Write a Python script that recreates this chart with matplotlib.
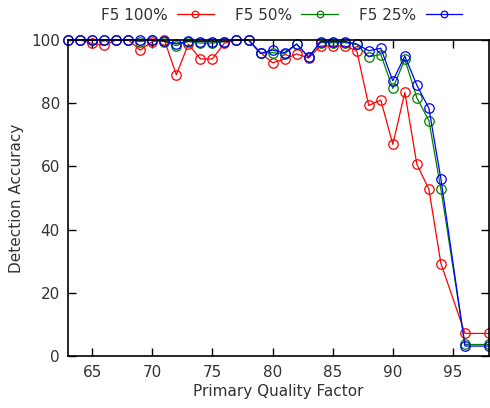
import numpy as np
import matplotlib
matplotlib.use("Agg")
import matplotlib.pyplot as plt

quality = [63, 64, 65, 66, 67, 68, 69, 70, 71, 72, 73, 74, 75, 76, 77, 78, 79, 80,
           81, 82, 83, 84, 85, 86, 87, 88, 89, 90, 91, 92, 93, 94, 96, 98]

f5_100 = [100, 100, 98.9, 98.3, 100, 100, 96.8, 99.5, 100, 89.0, 98.7, 94.0, 94.0, 99.0,
          100, 100, 96.0, 92.8, 93.9, 95.6, 94.3, 98.1, 98.1, 98.1, 96.6, 79.3, 81.0,
          67.0, 83.4, 60.7, 52.8, 29.3, 7.2, 7.2]
f5_50 = [100, 100, 100, 100, 100, 100, 99.5, 100, 99.5, 98.2, 99.5, 99.0, 99.0, 99.5,
         100, 100, 95.8, 96.0, 95.6, 98.7, 94.7, 99.2, 99.2, 99.2, 98.6, 94.7, 95.4,
         84.7, 93.9, 81.7, 74.5, 52.8, 3.7, 3.7]
f5_25 = [100, 100, 100, 100, 100, 100, 100, 100, 99.7, 98.8, 99.7, 99.5, 99.5, 99.5,
         100, 100, 95.8, 96.8, 96.0, 98.7, 94.5, 99.5, 99.5, 99.5, 98.7, 96.6, 97.4,
         87.1, 94.9, 85.7, 78.4, 56.0, 3.2, 3.2]

series = [("F5 100%", f5_100, "red"),
          ("F5 50%", f5_50, "green"),
          ("F5 25%", f5_25, "blue")]

txt = "#333333"
plt.rcParams["font.family"] = "DejaVu Sans"
plt.rcParams["font.size"] = 11

fig = plt.figure(figsize=(4.9, 4.08), dpi=100)
ax = fig.add_axes([0.139, 0.127, 0.859, 0.775])

for label, vals, col in series:
    ax.plot(quality, vals, color=col, lw=0.9, marker="o", ms=6.8,
            mfc="none", mec=col, mew=0.9, label=label, clip_on=False)

ax.set_xlim(63, 98)
ax.set_ylim(0, 100)
ax.set_xticks([65, 70, 75, 80, 85, 90, 95])
ax.set_yticks([0, 20, 40, 60, 80, 100])
ax.tick_params(direction="in", length=6, width=1, top=True, right=True,
               colors="black", labelcolor=txt, pad=6)
for s in ax.spines.values():
    s.set_linewidth(1.2)

ax.set_xlabel("Primary Quality Factor", color=txt, labelpad=3)
ax.set_ylabel("Detection Accuracy", color=txt, labelpad=5)

fig.legend(loc="upper center", bbox_to_anchor=(0.575, 1.015), ncol=3,
           frameon=False, markerfirst=False, handlelength=2.4,
           columnspacing=1.4, handletextpad=0.6, markerscale=0.7,
           labelcolor=txt)

fig.savefig("out.png", dpi=100)
